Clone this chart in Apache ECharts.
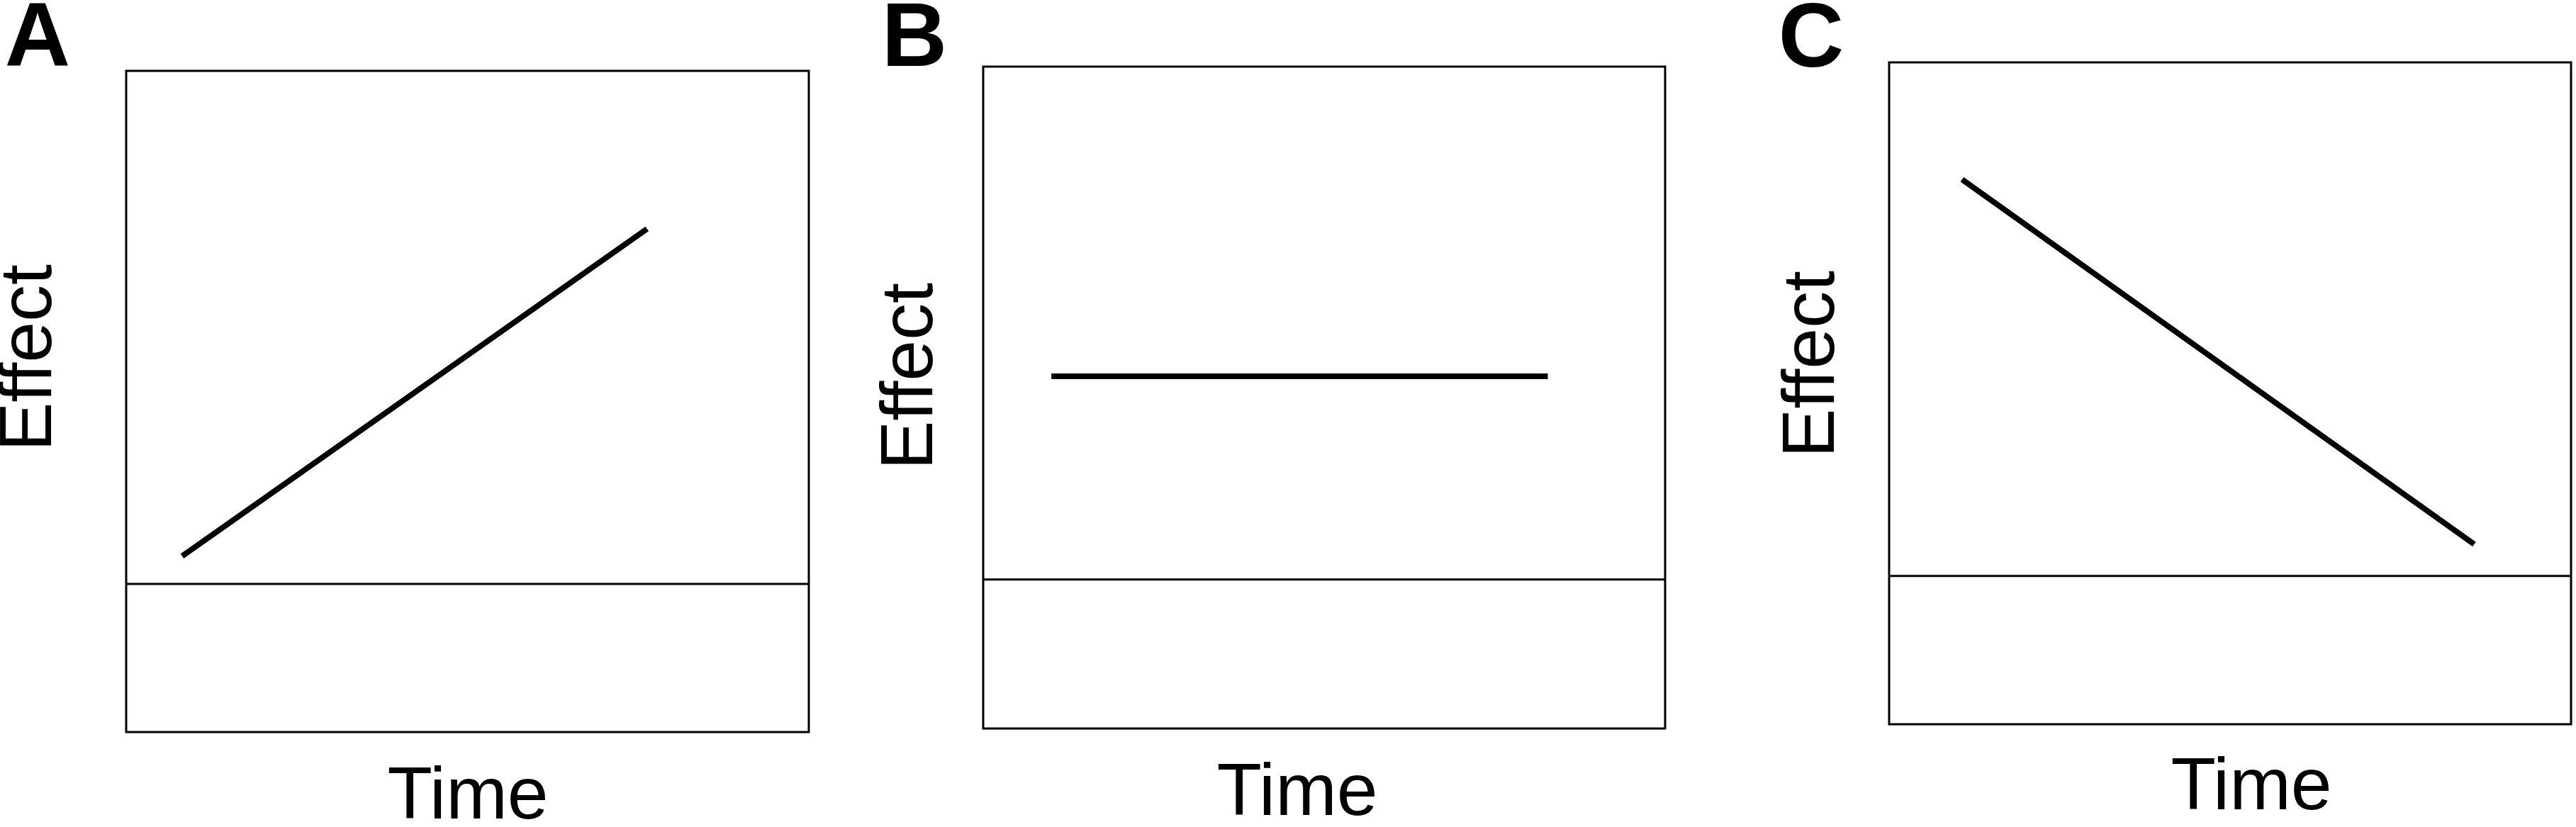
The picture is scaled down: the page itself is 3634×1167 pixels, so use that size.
<!DOCTYPE html>
<html>
<head>
<meta charset="utf-8">
<script src="https://cdn.jsdelivr.net/npm/echarts@6/dist/echarts.min.js"></script>
<style>
  html, body { margin: 0; padding: 0; background: #fff; }
  #chart { width: 3634px; height: 1167px; }
</style>
</head>
<body>
<div id="chart"></div>
<script>
// values on a 0-100 scale for both axes of every panel
const panels = ['A', 'B', 'C']
const timeA = [8.2, 76.3]
const effectA = [26.6, 76.1]
const timeB = [10.0, 82.8]
const effectB = [53.2, 53.2]
const timeC = [10.7, 85.8]
const effectC = [82.3, 27.2]
const baselineTime = [0, 100]
const baselineEffect = [22.4, 22.5, 22.4]

const font = '"Liberation Sans", Arial, sans-serif'

const grids = [
  { left: 178, top: 100, width: 963, height: 933 },
  { left: 1387, top: 94, width: 962, height: 934 },
  { left: 2665, top: 88, width: 962, height: 934 }
].map(g => ({ ...g, show: true, borderColor: '#000', borderWidth: 3, backgroundColor: '#fff' }))

const axisBase = {
  type: 'value',
  min: 0,
  max: 100,
  axisLine: { show: false },
  axisTick: { show: false },
  axisLabel: { show: false },
  splitLine: { show: false }
}

const xAxes = grids.map((g, i) => ({ ...axisBase, gridIndex: i }))
const yAxes = grids.map((g, i) => ({ ...axisBase, gridIndex: i }))

const curves = [[timeA, effectA], [timeB, effectB], [timeC, effectC]]

const series = []
curves.forEach(([xs, ys], i) => {
  series.push({
    name: 'baseline ' + panels[i],
    type: 'line',
    xAxisIndex: i,
    yAxisIndex: i,
    data: baselineTime.map(t => [t, baselineEffect[i]]),
    showSymbol: false,
    lineStyle: { color: '#000', width: 3 }
  })
  series.push({
    name: 'effect ' + panels[i],
    type: 'line',
    xAxisIndex: i,
    yAxisIndex: i,
    data: xs.map((t, k) => [t, ys[k]]),
    showSymbol: false,
    lineStyle: { color: '#000', width: 8 }
  })
})

const letterPos = [[53, 54], [1290, 54], [2555, 55]]
const effectPos = [[43, 505], [1286, 531], [2558, 514]]
const timePos = [[660, 1126], [1830, 1121], [3176, 1113]]

const textStyle = (text, size, weight) => ({
  text: text,
  fontFamily: font,
  fontSize: size,
  fontWeight: weight,
  fill: '#000',
  align: 'center',
  verticalAlign: 'middle'
})

const graphic = []
panels.forEach((p, i) => {
  graphic.push({
    type: 'text', x: letterPos[i][0], y: letterPos[i][1] + 4,
    style: textStyle(p, 128, 'bold')
  })
  graphic.push({
    type: 'text', x: effectPos[i][0], y: effectPos[i][1], rotation: Math.PI / 2,
    style: textStyle('Effect', 104, 'normal')
  })
  graphic.push({
    type: 'text', x: timePos[i][0], y: timePos[i][1],
    style: textStyle('Time', 104, 'normal')
  })
})

const chart = echarts.init(document.getElementById('chart'))
chart.setOption({
  animation: false,
  backgroundColor: '#fff',
  grid: grids,
  xAxis: xAxes,
  yAxis: yAxes,
  series: series,
  graphic: graphic
})
</script>
</body>
</html>
